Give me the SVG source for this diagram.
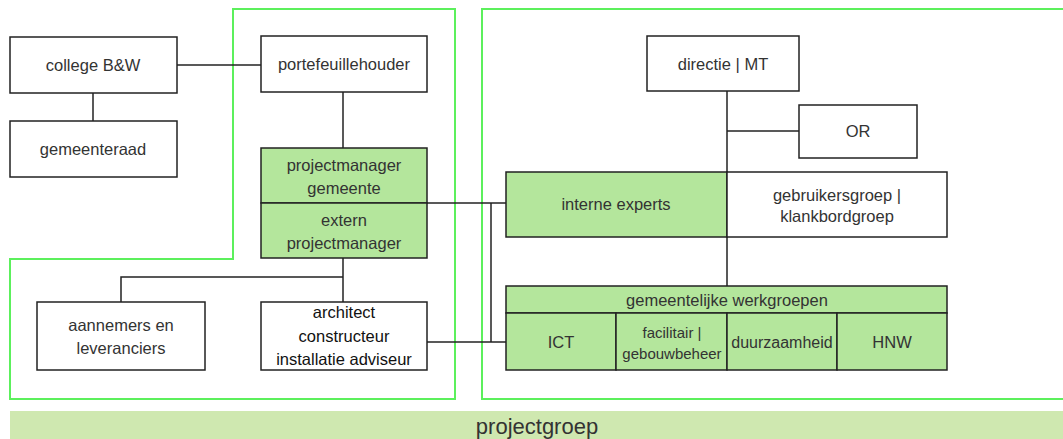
<svg xmlns="http://www.w3.org/2000/svg" width="1063" height="439" viewBox="0 0 1063 439">
<style>
.box{fill:#fff;stroke:#222;stroke-width:1.5}
.g{fill:#b4e69c;stroke:#222;stroke-width:1.5}
.frame{fill:none;stroke:#5cf05c;stroke-width:2}
.t{font-family:"Liberation Sans",Arial,sans-serif;font-size:16.5px;fill:#333;text-anchor:middle;dominant-baseline:central}
.s{font-size:15px}
.k{fill:#111}
.c{stroke:#222;stroke-width:1.5;fill:none}
</style>
<rect x="0" y="0" width="1063" height="439" fill="#fff"/>
<g id="frames">
<polygon class="frame" points="233,9 455,9 455,399 10,399 10,259 233,259"/>
<polyline class="frame" points="1070,9 482,9 482,399 1070,399"/>
</g>
<g id="projectgroep">
<rect x="10" y="411" width="1060" height="30" fill="#cfe8b0"/>
<text class="t" x="537" y="426" style="font-size:22px">projectgroep</text>
</g>
<g id="connectors">
<line class="c" x1="177" y1="65" x2="261" y2="65"/>
<line class="c" x1="93" y1="93" x2="93" y2="121"/>
<line class="c" x1="343" y1="92" x2="343" y2="148"/>
<line class="c" x1="427" y1="203" x2="506" y2="203"/>
<line class="c" x1="491" y1="203" x2="491" y2="342"/>
<line class="c" x1="427" y1="342" x2="506" y2="342"/>
<polyline class="c" points="343,258 343,302"/>
<polyline class="c" points="343,277 121,277 121,302"/>
<line class="c" x1="727" y1="91" x2="727" y2="286"/>
<line class="c" x1="727" y1="131" x2="799" y2="131"/>
</g>
<g id="college">
<rect class="box" x="10" y="37" width="167" height="56"/>
<text class="t" x="93" y="65">college B&amp;W</text>
</g>
<g id="gemeenteraad">
<rect class="box" x="10" y="121" width="167" height="56"/>
<text class="t" x="93" y="149">gemeenteraad</text>
</g>
<g id="portefeuillehouder">
<rect class="box" x="261" y="36" width="166" height="56"/>
<text class="t" x="344" y="64">portefeuillehouder</text>
</g>
<g id="projectmanager-gemeente">
<rect class="g" x="261" y="148" width="166" height="55"/>
<text class="t" x="344" y="165">projectmanager</text>
<text class="t" x="344" y="188">gemeente</text>
</g>
<g id="extern-projectmanager">
<rect class="g" x="261" y="203" width="166" height="55"/>
<text class="t" x="344" y="220">extern</text>
<text class="t" x="344" y="243">projectmanager</text>
</g>
<g id="aannemers">
<rect class="box" x="37" y="302" width="168" height="68"/>
<text class="t" x="121" y="325">aannemers en</text>
<text class="t" x="121" y="348">leveranciers</text>
</g>
<g id="architect">
<rect class="box" x="261" y="302" width="166" height="68"/>
<text class="t k" x="344" y="312">architect</text>
<text class="t k" x="344" y="336">constructeur</text>
<text class="t k" x="344" y="359">installatie adviseur</text>
</g>
<g id="directie">
<rect class="box" x="647" y="36" width="152" height="55"/>
<text class="t" x="723" y="64">directie | MT</text>
</g>
<g id="or">
<rect class="box" x="799" y="105" width="118" height="53"/>
<text class="t" x="858" y="131">OR</text>
</g>
<g id="interne-experts">
<rect class="g" x="506" y="172" width="221" height="65"/>
<text class="t" x="616" y="204">interne experts</text>
</g>
<g id="gebruikersgroep">
<rect class="box" x="727" y="172" width="220" height="65"/>
<text class="t" x="837" y="195">gebruikersgroep |</text>
<text class="t" x="837" y="216">klankbordgroep</text>
</g>
<g id="werkgroepen">
<rect class="g" x="506" y="286" width="441" height="27"/>
<text class="t" x="727" y="300">gemeentelijke werkgroepen</text>
</g>
<g id="ict">
<rect class="g" x="506" y="313" width="110" height="57"/>
<text class="t" x="561" y="342">ICT</text>
</g>
<g id="facilitair">
<rect class="g" x="616" y="313" width="111" height="57"/>
<text class="t s" x="672" y="332">facilitair |</text>
<text class="t s" x="672" y="353">gebouwbeheer</text>
</g>
<g id="duurzaamheid">
<rect class="g" x="727" y="313" width="110" height="57"/>
<text class="t" x="782" y="342" style="font-size:16px">duurzaamheid</text>
</g>
<g id="hnw">
<rect class="g" x="837" y="313" width="110" height="57"/>
<text class="t" x="892" y="342">HNW</text>
</g>
</svg>
